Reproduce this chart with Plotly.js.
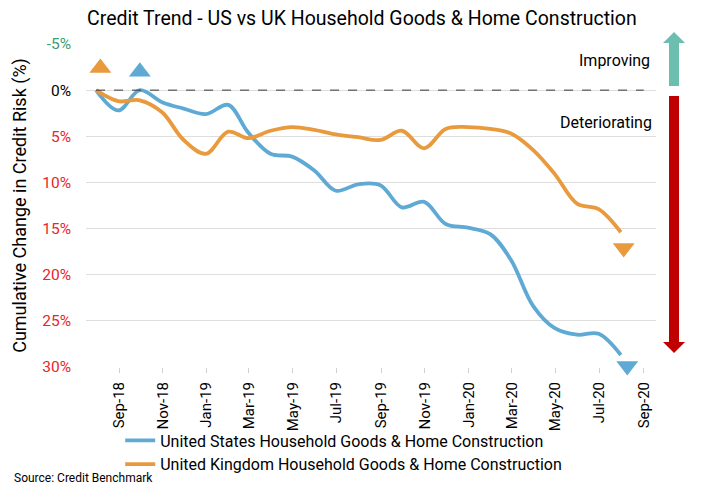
<!DOCTYPE html>
<html>
<head>
<meta charset="utf-8">
<script src="https://cdn.plot.ly/plotly-3.0.1.min.js"></script>
<style>html,body{margin:0;padding:0;background:#fff;}#chart{width:704px;height:498px;}</style>
</head>
<body>
<div id="chart"></div>
<script>
// Month-end dates of the series
const dates = ['2018-07-31','2018-08-31','2018-09-30','2018-10-31','2018-11-30','2018-12-31',
  '2019-01-31','2019-02-28','2019-03-31','2019-04-30','2019-05-31','2019-06-30','2019-07-31',
  '2019-08-31','2019-09-30','2019-10-31','2019-11-30','2019-12-31','2020-01-31','2020-02-29',
  '2020-03-31','2020-04-30','2020-05-31','2020-06-30','2020-07-31'];
const usValues = [0, 2.2, 0, 1.3, 2.0, 2.6, 1.6, 4.6, 6.9, 7.2, 8.7, 10.9, 10.2,
  10.3, 12.7, 12.1, 14.5, 14.9, 15.6, 18.4, 23.4, 25.8, 26.5, 26.4, 28.7];
const ukValues = [0, 1.2, 1.1, 2.4, 5.4, 6.9, 4.5, 5.2, 4.4, 4.0, 4.3, 4.8, 5.1,
  5.4, 4.4, 6.3, 4.2, 4.0, 4.2, 4.7, 6.5, 9.1, 12.3, 12.9, 15.4];
// Direction indicator markers
const usMarkerDates = ['2018-09-30', '2020-08-09'];
const usMarkerValues = [-2.0, 29.9];
const ukMarkerDates = ['2018-08-06', '2020-08-04'];
const ukMarkerValues = [-2.4, 17.1];
// Axis ticks
const yTickVals = [-5, 0, 5, 10, 15, 20, 25, 30];
const yTickLabels = ['-5%', '0%', '5%', '10%', '15%', '20%', '25%', '30%'];
const seriesNames = ['United States Household Goods & Home Construction',
  'United Kingdom Household Goods & Home Construction'];

const BLUE = '#5eaad4', ORANGE = '#e89a3c';
const tickText = yTickVals.map((v, i) => {
  const c = v < 0 ? '#3d9a72' : (v > 0 ? '#e8252a' : '#000000');
  return '<span style="color:' + c + '">' + yTickLabels[i] + '</span>';
});

const traces = [
  {x: dates, y: usValues, name: seriesNames[0], type: 'scatter', mode: 'lines',
   line: {color: BLUE, width: 3.8, shape: 'spline', smoothing: 1}},
  {x: dates, y: ukValues, name: seriesNames[1], type: 'scatter', mode: 'lines',
   line: {color: ORANGE, width: 3.8, shape: 'spline', smoothing: 1}},
  {x: [usMarkerDates[0]], y: [usMarkerValues[0]], type: 'scatter', mode: 'markers', showlegend: false,
   cliponaxis: false, marker: {symbol: 'triangle-up', size: 19, color: BLUE}},
  {x: [usMarkerDates[1]], y: [usMarkerValues[1]], type: 'scatter', mode: 'markers', showlegend: false,
   cliponaxis: false, marker: {symbol: 'triangle-down', size: 19, color: BLUE}},
  {x: [ukMarkerDates[0]], y: [ukMarkerValues[0]], type: 'scatter', mode: 'markers', showlegend: false,
   cliponaxis: false, marker: {symbol: 'triangle-up', size: 19, color: ORANGE}},
  {x: [ukMarkerDates[1]], y: [ukMarkerValues[1]], type: 'scatter', mode: 'markers', showlegend: false,
   cliponaxis: false, marker: {symbol: 'triangle-down', size: 19, color: ORANGE}}
];

const layout = {
  width: 704, height: 498, autosize: false,
  margin: {l: 86, r: 48, t: 44, b: 131},
  paper_bgcolor: '#ffffff', plot_bgcolor: '#ffffff',
  font: {family: 'Roboto, "Noto Sans", sans-serif', color: '#000000', size: 15},
  title: {text: 'Credit Trend - US vs UK Household Goods & Home Construction',
    font: {size: 19.5, color: '#000000'}, xref: 'container', x: 0.514, xanchor: 'center',
    yref: 'container', y: 0.964, yanchor: 'middle'},
  xaxis: {type: 'date', range: ['2018-07-17', '2020-09-18'], tick0: '2018-09-01', dtick: 'M2',
    tickformat: '%b-%y', tickangle: -90, ticks: 'outside', ticklen: 5, tickcolor: '#d0d0d0',
    showgrid: false, zeroline: false, showline: false, ticklabelstandoff: 3,
    tickfont: {size: 15, color: '#000000'}},
  yaxis: {range: [30, -5], autorange: false, tickvals: yTickVals, ticktext: tickText,
    showgrid: true, gridcolor: '#dedede', gridwidth: 1, zeroline: false, showline: false,
    ticks: '', ticklabelstandoff: 14, tickfont: {size: 15.5},
    title: {text: 'Cumulative Change in Credit Risk (%)', font: {size: 18, color: '#000000'}, standoff: 10}},
  showlegend: true,
  legend: {orientation: 'v', x: 0.06, xanchor: 'left', y: -0.175, yanchor: 'top',
    font: {size: 16, color: '#000000'}, tracegroupgap: 0, bgcolor: 'rgba(0,0,0,0)'},
  shapes: [
    {type: 'line', xref: 'x', yref: 'y', x0: '2018-07-31', x1: '2020-09-01', y0: 0, y1: 0,
     line: {color: '#333333', width: 1, dash: 'dash'}},
    {type: 'path', xref: 'paper', yref: 'paper', fillcolor: '#6cbfae', line: {width: 0},
     path: 'M 1.0228,0.870 L 1.0404,0.870 L 1.0404,1.003 L 1.0509,1.003 L 1.0316,1.037 L 1.0123,1.003 L 1.0228,1.003 Z'},
    {type: 'path', xref: 'paper', yref: 'paper', fillcolor: '#c00000', line: {width: 0},
     path: 'M 1.0228,0.839 L 1.0404,0.839 L 1.0404,0.0774 L 1.0509,0.0774 L 1.0316,0.0433 L 1.0123,0.0774 L 1.0228,0.0774 Z'}
  ],
  annotations: [
    {text: 'Improving', xref: 'paper', yref: 'paper', x: 0.993, y: 0.950, xanchor: 'right', yanchor: 'middle',
     showarrow: false, font: {size: 16, color: '#000000'}},
    {text: 'Deteriorating', xref: 'paper', yref: 'paper', x: 0.997, y: 0.7585, xanchor: 'right', yanchor: 'middle',
     showarrow: false, font: {size: 16, color: '#000000'}},
    {text: 'Source: Credit Benchmark', xref: 'paper', yref: 'paper', x: -0.13, y: -0.344,
     xanchor: 'left', yanchor: 'middle', showarrow: false,
     font: {size: 12, color: '#000000', family: 'Roboto, sans-serif'}}
  ]
};

Plotly.newPlot('chart', traces, layout, {displayModeBar: false, staticPlot: true});
</script>
</body>
</html>
